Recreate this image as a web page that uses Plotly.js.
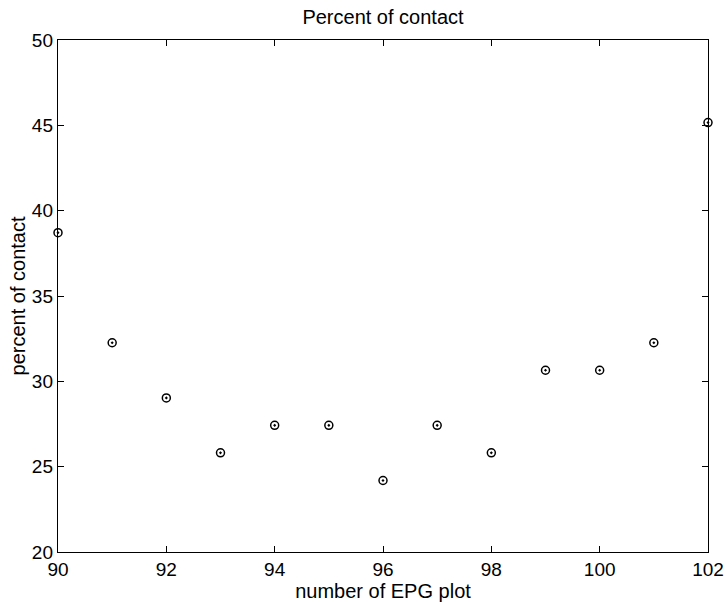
<!DOCTYPE html>
<html>
<head>
<meta charset="utf-8">
<script src="https://cdn.plot.ly/plotly-3.0.1.min.js"></script>
<style>html,body{margin:0;padding:0;background:#fff;}#chart{width:728px;height:602px;}</style>
</head>
<body>
<div id="chart"></div>
<script>
// Data
const plotNumbers = [90, 91, 92, 93, 94, 95, 96, 97, 98, 99, 100, 101, 102];
const percentContact = [38.71, 32.26, 29.03, 25.81, 27.42, 27.42, 24.19, 27.42, 25.81, 30.65, 30.65, 32.26, 45.16];
const xTicks = [90, 92, 94, 96, 98, 100, 102];
const yTicks = [20, 25, 30, 35, 40, 45, 50];

const font = {family: '"Liberation Sans", Arial, Helvetica, sans-serif', size: 19, color: '#000'};

const trace = {
  x: plotNumbers,
  y: percentContact,
  type: 'scatter',
  mode: 'markers',
  cliponaxis: false,
  marker: {symbol: 'circle-open-dot', size: 8, color: '#000', line: {color: '#000', width: 1.5}},
  hoverinfo: 'x+y'
};

const axisCommon = {
  showline: true, linecolor: '#000', linewidth: 1.2, mirror: 'ticks',
  ticks: 'inside', ticklen: 6, tickwidth: 1, tickcolor: '#000',
  showgrid: false, zeroline: false, tickfont: font
};

const layout = {
  width: 728, height: 602,
  margin: {l: 58, r: 20, t: 40, b: 50},
  paper_bgcolor: '#fff', plot_bgcolor: '#fff',
  font: font,
  showlegend: false,
  title: {text: 'Percent of contact', font: {family: font.family, size: 20, color: '#000'}, x: 0.5, xref: 'paper', xanchor: 'center', y: 1, yref: 'container', yanchor: 'top', pad: {t: 10}},
  xaxis: Object.assign({}, axisCommon, {
    range: [90, 102], tickvals: xTicks, ticktext: xTicks.map(String),
    title: {text: 'number of EPG plot', font: {family: font.family, size: 20, color: '#000'}, standoff: 0}
  }),
  yaxis: Object.assign({}, axisCommon, {
    range: [20, 50], tickvals: yTicks, ticktext: yTicks.map(String),
    title: {text: 'percent of contact', font: {family: font.family, size: 20, color: '#000'}, standoff: 0}
  })
};

Plotly.newPlot('chart', [trace], layout, {displayModeBar: false, staticPlot: true});
</script>
</body>
</html>
